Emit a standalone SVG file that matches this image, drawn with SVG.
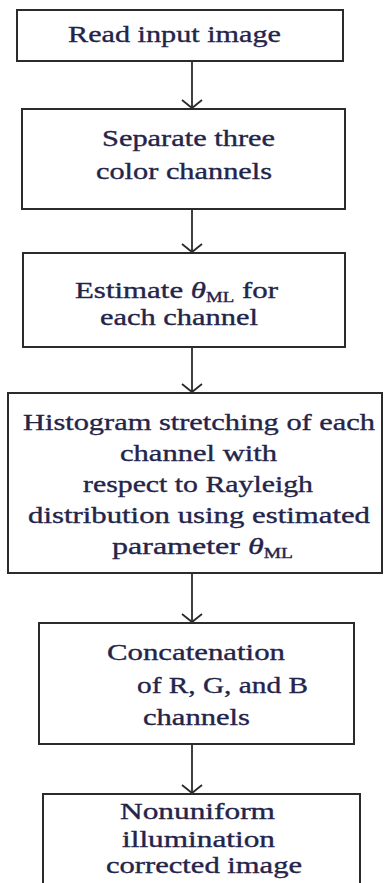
<svg xmlns="http://www.w3.org/2000/svg" width="384" height="883" viewBox="0 0 384 883">
  <style>
    .box { fill: #ffffff; stroke: #2b2b2b; stroke-width: 2; }
    .lbl { font-family: "Liberation Serif", "Times New Roman", serif; font-size: 23px; fill: #24244a; stroke: #24244a; stroke-width: 0.35; }
    .th { font-style: italic; }
    .sub { font-size: 14px; }
    .edge { fill: none; stroke: #2b2b2b; stroke-width: 1.8; }
  </style>
  <defs>
    <marker id="vhead" markerUnits="userSpaceOnUse" orient="auto" markerWidth="24" markerHeight="24" refX="0" refY="0" viewBox="-12 -12 24 24" overflow="visible">
      <path d="M-8,-10 L0,0 L-8,10" fill="none" stroke="#2b2b2b" stroke-width="1.8"/>
    </marker>
  </defs>

  <rect x="0" y="0" width="384" height="883" fill="#ffffff"/>

  <!-- connectors -->
  <g id="connectors">
    <line class="edge" x1="192" y1="61" x2="192" y2="108" marker-end="url(#vhead)"/>
    <line class="edge" x1="192" y1="209" x2="192" y2="252" marker-end="url(#vhead)"/>
    <line class="edge" x1="192" y1="347" x2="192" y2="392" marker-end="url(#vhead)"/>
    <line class="edge" x1="192" y1="573" x2="192" y2="622" marker-end="url(#vhead)"/>
    <line class="edge" x1="192" y1="744" x2="192" y2="793" marker-end="url(#vhead)"/>
  </g>

  <g id="read-input">
    <rect class="box" x="17" y="10" width="326" height="51"/>
    <text class="lbl" x="68" y="42" textLength="213" lengthAdjust="spacingAndGlyphs">Read input image</text>
  </g>

  <g id="separate-channels">
    <rect class="box" x="22" y="109" width="323" height="100"/>
    <text class="lbl" x="102" y="146" textLength="173" lengthAdjust="spacingAndGlyphs">Separate three</text>
    <text class="lbl" x="96" y="179" textLength="176" lengthAdjust="spacingAndGlyphs">color channels</text>
  </g>

  <g id="estimate-theta">
    <rect class="box" x="23" y="253" width="322" height="94"/>
    <text class="lbl" x="75" y="298" textLength="203" lengthAdjust="spacingAndGlyphs">Estimate <tspan class="th">θ</tspan><tspan class="sub" dy="4">ML</tspan><tspan dy="-4"> for</tspan></text>
    <text class="lbl" x="100" y="325" textLength="158" lengthAdjust="spacingAndGlyphs">each channel</text>
  </g>

  <g id="histogram-stretching">
    <rect class="box" x="8" y="393" width="374" height="180"/>
    <text class="lbl" x="23" y="430" textLength="352" lengthAdjust="spacingAndGlyphs">Histogram stretching of each</text>
    <text class="lbl" x="120" y="461" textLength="157" lengthAdjust="spacingAndGlyphs">channel with</text>
    <text class="lbl" x="83" y="492" textLength="230" lengthAdjust="spacingAndGlyphs">respect to Rayleigh</text>
    <text class="lbl" x="28" y="523" textLength="342" lengthAdjust="spacingAndGlyphs">distribution using estimated</text>
    <text class="lbl" x="112" y="554" textLength="181" lengthAdjust="spacingAndGlyphs">parameter <tspan class="th">θ</tspan><tspan class="sub" dy="4">ML</tspan></text>
  </g>

  <g id="concatenation">
    <rect class="box" x="39" y="623" width="315" height="121"/>
    <text class="lbl" x="107" y="660" textLength="178" lengthAdjust="spacingAndGlyphs">Concatenation</text>
    <text class="lbl" x="137" y="693" textLength="171" lengthAdjust="spacingAndGlyphs">of R, G, and B</text>
    <text class="lbl" x="143" y="725" textLength="107" lengthAdjust="spacingAndGlyphs">channels</text>
  </g>

  <g id="corrected-image">
    <rect class="box" x="43" y="794" width="317" height="110"/>
    <text class="lbl" x="120" y="819" textLength="155" lengthAdjust="spacingAndGlyphs">Nonuniform</text>
    <text class="lbl" x="122" y="847" textLength="153" lengthAdjust="spacingAndGlyphs">illumination</text>
    <text class="lbl" x="106" y="873" textLength="196" lengthAdjust="spacingAndGlyphs">corrected image</text>
  </g>
</svg>
